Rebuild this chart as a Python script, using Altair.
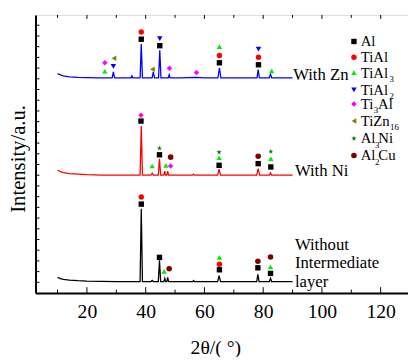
import altair as alt
import pandas as pd

FONT = "Liberation Serif"

# ---------------- spectra (2theta, intensity a.u.) ----------------
zn_x = [10, 11, 12, 14, 17, 20, 24, 28.6, 29.0, 29.4, 32, 35.0, 35.3, 35.6, 38.1, 38.5, 38.9,
        42.2, 42.6, 43.0, 44.4, 44.8, 45.2, 47.7, 48.0, 48.3, 52, 57, 60, 64.6, 65.1, 65.6,
        70, 77.9, 78.3, 78.7, 82.1, 82.5, 82.9, 86, 90]
zn_y = [223.3, 222, 221, 220, 219.5, 219.2, 219, 219, 225, 219, 219, 219, 221, 219, 219, 253.3, 219,
        219, 225, 219, 219, 247, 219, 219, 222.3, 219, 219, 219.5, 219, 219, 229, 219,
        219, 219, 227.3, 219, 219, 223, 219, 219, 219]

ni_x = [10, 11, 12, 14, 17, 20, 25, 38.1, 38.5, 38.9, 41.8, 42.2, 42.6, 44.3, 44.7, 45.1,
        46.2, 46.5, 46.8, 47.2, 47.5, 47.8, 56, 56.3, 56.6, 64.5, 65.0, 65.5, 77.8, 78.3, 78.8,
        82.1, 82.5, 82.9, 90]
ni_y = [125, 123.5, 122.5, 121.5, 121, 120.5, 120, 120, 170, 120, 120, 122, 120, 120, 136.7, 120,
        120, 124, 120, 120, 124, 120, 120, 121, 120, 120, 126, 120, 120, 126.7, 120,
        120, 122.3, 120, 120]

wo_x = [10, 11, 12, 14, 17, 20, 25, 30, 38.1, 38.5, 38.9, 41.8, 42.2, 42.6, 44.3, 44.7, 45.1,
        46.2, 46.5, 46.8, 47.2, 47.5, 47.8, 56, 56.3, 56.6, 64.5, 65.0, 65.5, 77.8, 78.2, 78.6,
        82.1, 82.5, 82.9, 90]
wo_y = [16, 14.8, 14, 13.2, 12.6, 12.2, 11.9, 11.7, 11.7, 85.7, 11.7, 11.7, 12.8, 11.7, 11.7, 33.3, 11.7,
        11.7, 15, 11.7, 11.7, 16, 11.7, 11.7, 12.8, 11.7, 11.7, 17.7, 11.7, 11.7, 19, 11.7,
        11.7, 15, 11.7, 11.7]

series_names = ["With Zn", "With Ni", "Without"]
series_colors = ["#0000ff", "#ff0000", "#000000"]

# ---------------- phase markers ----------------
zn_mx = [26.1, 26.1, 29.0, 29.2, 38.5, 38.5, 44.8, 44.8, 42.3, 48.1, 57.3, 65.1, 65.1, 65.1, 78.4, 78.4, 78.4, 82.9]
zn_my = [225.7, 234.3, 230.7, 239, 265.7, 258.3, 259, 251.7, 227.7, 228.7, 224.3, 250.7, 241.7, 234.3, 248.3, 240, 232.3, 226]
zn_mp = ["TiAl3", "Ti3Al", "TiAl2", "TiZn16", "TiAl", "Al", "TiAl2", "Al", "TiZn16", "Ti3Al", "Ti3Al",
         "TiAl3", "TiAl", "Al", "TiAl2", "TiAl", "Al", "TiAl3"]

ni_mx = [38.4, 38.4, 44.7, 44.7, 42.2, 46.9, 48.5, 48.5, 65.0, 65.0, 65.0, 78.3, 78.3, 82.6, 82.6, 82.6]
ni_my = [181, 175, 140.7, 147.3, 129.3, 130, 129.3, 138.3, 130, 137.7, 143.3, 131.7, 139.3, 128.3, 136.7, 144]
ni_mp = ["Ti3Al", "Al", "Al", "Al3Ni", "TiAl3", "TiAl3", "Ti3Al", "Al2Cu", "Al", "TiAl3", "Al3Ni",
         "Al", "Al2Cu", "Al", "TiAl3", "Al3Ni"]

wo_mx = [38.5, 38.5, 44.7, 46.3, 48.0, 65.1, 65.1, 65.1, 78.2, 78.2, 82.5, 82.5, 82.5]
wo_my = [97.7, 90.5, 36.3, 22, 24.7, 23.7, 29.3, 36.3, 25.7, 32.3, 20, 26.7, 36.7]
wo_mp = ["TiAl", "Al", "Al", "TiAl3", "Al2Cu", "Al", "TiAl", "TiAl3", "Al", "Al2Cu", "Al", "TiAl3", "Al2Cu"]

phases = ["Al", "TiAl", "TiAl3", "TiAl2", "Ti3Al", "TiZn16", "Al3Ni", "Al2Cu"]
phase_colors = ["#000000", "#ff0000", "#00ee00", "#0000ff", "#ff00ff", "#808000", "#007a00", "#800000"]
STAR = ("M0,-1L0.2245,-0.309L0.951,-0.309L0.363,0.118L0.588,0.809L0,0.382"
        "L-0.588,0.809L-0.363,0.118L-0.951,-0.309L-0.2245,-0.309Z")
phase_shapes = ["square", "circle", "triangle-up", "triangle-down", "diamond", "triangle-left", STAR, "circle"]
phase_sizes = [30, 32, 40, 40, 42, 40, 55, 30]

# legend (position in data units)
leg_mx = [110.9] * 8
leg_my = [256, 240, 224.3, 206.7, 192.3, 175, 157.3, 140]
leg_text = ["Al", "TiAl", "TiAl", "3", "TiAl", "2", "Ti", "3", "Al", "TiZn", "16",
            "Al", "3", "Ni", "Al", "2", "Cu"]
leg_tx = [113.2, 113.2, 113.2, 123.0, 113.2, 123.0, 113.2, 117.6, 119.1, 113.2, 123.2,
          113.2, 118.1, 119.2, 113.2, 118.1, 119.2]
leg_ty = [256, 240, 224.3, 217.8, 206.7, 200.2, 192.3, 185.8, 192.3, 175, 168.5,
          157.3, 150.8, 157.3, 140, 133.5, 140]
leg_fs = [15, 15, 15, 9, 15, 9, 15, 9, 15, 15, 9, 15, 9, 15, 15, 9, 15]

# curve labels
lab_text = ["With Zn", "With Ni", "Without", "Intermediate", "layer"]
lab_x = [90.2, 90.8, 90.8, 90.8, 90.8]
lab_y = [222, 124, 49.3, 30, 10.7]

# ticks
x_major = [20, 40, 60, 80, 100, 120]
x_minor = [10, 30, 50, 70, 90, 110]
y_ticks = [10.9 * k for k in range(1, 26)]

W, H = 379, 283
xs = alt.Scale(domain=[2.5, 129.3], nice=False, zero=False)
ys = alt.Scale(domain=[0, H], nice=False, zero=False)
xaxis = alt.Axis(values=x_major, format="d", ticks=False, tickSize=0, grid=False,
                 labelFont=FONT, labelFontSize=20, labelColor="black", labelPadding=25,
                 labelBaseline="alphabetic", labelFlush=False,
                 domain=True, domainColor="black", domainWidth=2,
                 title="2θ/( °)", titleFont=FONT, titleFontSize=20, titleFontWeight="normal",
                 titleColor="black", titleX=183, titleY=62, titleBaseline="alphabetic",
                 titleAlign="center")
yaxis = alt.Axis(labels=False, ticks=False, grid=False, domain=True, domainColor="black",
                 domainWidth=2, title="Intensity/a.u.", titleFont=FONT, titleFontSize=21,
                 titleFontWeight="normal", titleColor="black", titleAngle=270, titleX=-11,
                 titleY=146, titleBaseline="alphabetic", titleAlign="center")
X = alt.X("x:Q", scale=xs, axis=xaxis)
Y = alt.Y("y:Q", scale=ys, axis=yaxis)

spec = pd.concat([
    pd.DataFrame({"x": zn_x, "y": zn_y, "s": "With Zn"}),
    pd.DataFrame({"x": ni_x, "y": ni_y, "s": "With Ni"}),
    pd.DataFrame({"x": wo_x, "y": wo_y, "s": "Without"}),
])
marks = pd.concat([
    pd.DataFrame({"x": zn_mx, "y": zn_my, "p": zn_mp}),
    pd.DataFrame({"x": ni_mx, "y": ni_my, "p": ni_mp}),
    pd.DataFrame({"x": wo_mx, "y": wo_my, "p": wo_mp}),
    pd.DataFrame({"x": leg_mx, "y": leg_my, "p": phases}),
])

lines = alt.Chart(spec).mark_line(strokeWidth=1.3, clip=True).encode(
    x=X, y=Y,
    color=alt.Color("s:N", scale=alt.Scale(domain=series_names, range=series_colors), legend=None),
    detail="s:N",
)

def rules(vals, y1, y2):
    return alt.Chart(pd.DataFrame({"x": vals})).mark_rule(color="black", strokeWidth=1).encode(
        x=X, y=alt.value(y1), y2=alt.value(y2))

tick_layers = [
    rules(x_major, H, H - 6), rules(x_minor, H, H - 3.5),
    rules(x_major, 0, 4), rules(x_minor, 0, 3),
    alt.Chart(pd.DataFrame({"y": y_ticks})).mark_rule(color="black", strokeWidth=1).encode(
        y=Y, x=alt.value(0), x2=alt.value(4)),
]

points = alt.Chart(marks).mark_point(filled=True, opacity=1, strokeWidth=0).encode(
    x=X, y=Y,
    shape=alt.Shape("p:N", scale=alt.Scale(domain=phases, range=phase_shapes), legend=None),
    color=alt.Color("p:N", scale=alt.Scale(domain=phases, range=phase_colors), legend=None),
    size=alt.Size("p:N", scale=alt.Scale(domain=phases, range=phase_sizes), legend=None),
)

legend_text = alt.Chart(pd.DataFrame({"x": leg_tx, "y": leg_ty, "t": leg_text, "fs": leg_fs})).mark_text(
    font=FONT, align="left", baseline="middle", color="black").encode(
    x=X, y=Y, text="t:N", size=alt.Size("fs:Q", scale=None))

curve_labels = alt.Chart(pd.DataFrame({"x": lab_x, "y": lab_y, "t": lab_text})).mark_text(
    font=FONT, fontSize=17, align="left", baseline="middle", color="black").encode(
    x=X, y=Y, text="t:N")

chart = alt.layer(lines, *tick_layers, points, legend_text, curve_labels).resolve_scale(
    color="independent", size="independent").properties(
    width=W, height=H, autosize=alt.AutoSizeParams(type="none"),
    padding={"left": 28, "top": 4, "right": 0, "bottom": 62},
).configure_view(stroke="black", strokeWidth=1.5).configure(
    background="white", font=FONT
).configure_axis(labelFont=FONT, titleFont=FONT)

chart.save("out.html", embed_options={"renderer": "svg", "actions": False})
